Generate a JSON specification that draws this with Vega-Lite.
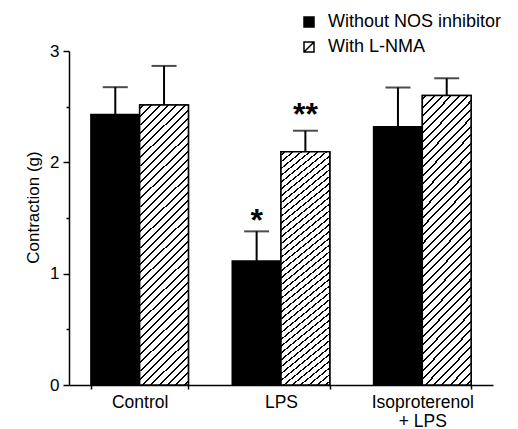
{
  "$schema": "https://vega.github.io/schema/vega-lite/v6.json",
  "autosize": {"type": "none"},
  "padding": {"left": 69, "top": 51, "right": 25, "bottom": 44},
  "width": 424,
  "height": 334,
  "background": "white",
  "config": {
    "view": {"stroke": null},
    "font": "Liberation Sans",
    "axis": {"labelFont": "Liberation Sans", "titleFont": "Liberation Sans", "labelColor": "black", "titleColor": "black", "domainColor": "black", "tickColor": "black", "domainWidth": 1.5, "tickWidth": 1.5, "grid": false},
    "legend": {"labelFont": "Liberation Sans", "labelColor": "black", "padding": 0}
  },
  "data": {
    "values": [
      {"condition": "Control", "group": "Without NOS inhibitor", "mean": 2.43, "upper": 2.675, "sig": ""},
      {"condition": "Control", "group": "With L-NMA", "mean": 2.515, "upper": 2.866, "sig": ""},
      {"condition": "LPS", "group": "Without NOS inhibitor", "mean": 1.114, "upper": 1.38, "sig": "*"},
      {"condition": "LPS", "group": "With L-NMA", "mean": 2.096, "upper": 2.284, "sig": "**"},
      {"condition": "Isoproterenol + LPS", "group": "Without NOS inhibitor", "mean": 2.32, "upper": 2.672, "sig": ""},
      {"condition": "Isoproterenol + LPS", "group": "With L-NMA", "mean": 2.6, "upper": 2.755, "sig": ""}
    ]
  },
  "encoding": {
    "x": {
      "field": "condition", "type": "nominal", "sort": ["Control", "LPS", "Isoproterenol + LPS"],
      "scale": {"paddingInner": 0.31, "paddingOuter": 0.155},
      "axis": {"title": null, "labelAngle": 0, "tickBand": "extent", "tickSize": 4, "labelFontSize": 17.5, "labelPadding": 4, "labelLineHeight": 19,
        "labelExpr": "datum.label == 'Isoproterenol + LPS' ? ['Isoproterenol', '+ LPS'] : datum.label"}
    },
    "xOffset": {"field": "group", "type": "nominal", "sort": ["Without NOS inhibitor", "With L-NMA"], "scale": {"domain": ["Without NOS inhibitor", "With L-NMA"], "paddingInner": 0, "paddingOuter": 0}}
  },
  "layer": [
    {
      "mark": {"type": "rule", "color": "black", "strokeWidth": 2},
      "encoding": {
        "y": {"field": "mean", "type": "quantitative"},
        "y2": {"field": "upper"}
      }
    },
    {
      "mark": {"type": "tick", "color": "black", "thickness": 2, "size": 25, "orient": "horizontal"},
      "encoding": {
        "y": {"field": "upper", "type": "quantitative"}
      }
    },
    {
      "mark": {"type": "bar", "stroke": "black", "strokeWidth": 1.5},
      "encoding": {
        "y": {"field": "mean", "type": "quantitative", "scale": {"domain": [0, 3], "nice": false},
          "axis": {"title": "Contraction (g)", "titleFontSize": 17, "titleFontWeight": "normal", "titlePadding": 7, "titleY": 156,
            "values": [0, 0.5, 1, 1.5, 2, 2.5, 3], "labelExpr": "datum.value % 1 == 0 ? format(datum.value, 'd') : ''",
            "tickSize": {"condition": {"test": "datum.value % 1 != 0", "value": 3}, "value": 6},
            "labelFontSize": 17, "labelPadding": 4}},
        "fill": {"field": "group", "type": "nominal", "sort": ["Without NOS inhibitor", "With L-NMA"],
          "scale": {"domain": ["Without NOS inhibitor", "With L-NMA"], "range": ["black", "white"]},
          "legend": {"title": null, "orient": "none", "legendX": 231, "legendY": -38, "symbolType": "M-1,-1H1V1H-1ZM-1,1L1,-1", "symbolSize": 100, "symbolStrokeColor": "black", "symbolStrokeWidth": 1.5, "labelFontSize": 18, "labelOffset": 10, "labelLimit": 400, "rowPadding": 7}}
      }
    },
    {
      "transform": [{"filter": "datum.group == 'With L-NMA'"}],
      "mark": {"type": "bar", "stroke": "black", "strokeWidth": 1.5,
        "fill": {"gradient": "linear", "x1": 0, "y1": 0, "x2": 0.195, "y2": 1.138, "stops": [
          {"offset": 0, "color": "white"},
          {"offset": 0.009, "color": "white"}, {"offset": 0.009, "color": "black"}, {"offset": 0.015, "color": "black"}, {"offset": 0.015, "color": "white"},
          {"offset": 0.034, "color": "white"}, {"offset": 0.034, "color": "black"}, {"offset": 0.040, "color": "black"}, {"offset": 0.040, "color": "white"},
          {"offset": 0.059, "color": "white"}, {"offset": 0.059, "color": "black"}, {"offset": 0.065, "color": "black"}, {"offset": 0.065, "color": "white"},
          {"offset": 0.084, "color": "white"}, {"offset": 0.084, "color": "black"}, {"offset": 0.090, "color": "black"}, {"offset": 0.090, "color": "white"},
          {"offset": 0.109, "color": "white"}, {"offset": 0.109, "color": "black"}, {"offset": 0.115, "color": "black"}, {"offset": 0.115, "color": "white"},
          {"offset": 0.134, "color": "white"}, {"offset": 0.134, "color": "black"}, {"offset": 0.140, "color": "black"}, {"offset": 0.140, "color": "white"},
          {"offset": 0.159, "color": "white"}, {"offset": 0.159, "color": "black"}, {"offset": 0.165, "color": "black"}, {"offset": 0.165, "color": "white"},
          {"offset": 0.184, "color": "white"}, {"offset": 0.184, "color": "black"}, {"offset": 0.190, "color": "black"}, {"offset": 0.190, "color": "white"},
          {"offset": 0.209, "color": "white"}, {"offset": 0.209, "color": "black"}, {"offset": 0.215, "color": "black"}, {"offset": 0.215, "color": "white"},
          {"offset": 0.234, "color": "white"}, {"offset": 0.234, "color": "black"}, {"offset": 0.240, "color": "black"}, {"offset": 0.240, "color": "white"},
          {"offset": 0.259, "color": "white"}, {"offset": 0.259, "color": "black"}, {"offset": 0.265, "color": "black"}, {"offset": 0.265, "color": "white"},
          {"offset": 0.284, "color": "white"}, {"offset": 0.284, "color": "black"}, {"offset": 0.290, "color": "black"}, {"offset": 0.290, "color": "white"},
          {"offset": 0.309, "color": "white"}, {"offset": 0.309, "color": "black"}, {"offset": 0.315, "color": "black"}, {"offset": 0.315, "color": "white"},
          {"offset": 0.334, "color": "white"}, {"offset": 0.334, "color": "black"}, {"offset": 0.340, "color": "black"}, {"offset": 0.340, "color": "white"},
          {"offset": 0.359, "color": "white"}, {"offset": 0.359, "color": "black"}, {"offset": 0.365, "color": "black"}, {"offset": 0.365, "color": "white"},
          {"offset": 0.384, "color": "white"}, {"offset": 0.384, "color": "black"}, {"offset": 0.390, "color": "black"}, {"offset": 0.390, "color": "white"},
          {"offset": 0.409, "color": "white"}, {"offset": 0.409, "color": "black"}, {"offset": 0.415, "color": "black"}, {"offset": 0.415, "color": "white"},
          {"offset": 0.434, "color": "white"}, {"offset": 0.434, "color": "black"}, {"offset": 0.440, "color": "black"}, {"offset": 0.440, "color": "white"},
          {"offset": 0.459, "color": "white"}, {"offset": 0.459, "color": "black"}, {"offset": 0.465, "color": "black"}, {"offset": 0.465, "color": "white"},
          {"offset": 0.484, "color": "white"}, {"offset": 0.484, "color": "black"}, {"offset": 0.490, "color": "black"}, {"offset": 0.490, "color": "white"},
          {"offset": 0.509, "color": "white"}, {"offset": 0.509, "color": "black"}, {"offset": 0.515, "color": "black"}, {"offset": 0.515, "color": "white"},
          {"offset": 0.534, "color": "white"}, {"offset": 0.534, "color": "black"}, {"offset": 0.540, "color": "black"}, {"offset": 0.540, "color": "white"},
          {"offset": 0.559, "color": "white"}, {"offset": 0.559, "color": "black"}, {"offset": 0.565, "color": "black"}, {"offset": 0.565, "color": "white"},
          {"offset": 0.584, "color": "white"}, {"offset": 0.584, "color": "black"}, {"offset": 0.590, "color": "black"}, {"offset": 0.590, "color": "white"},
          {"offset": 0.609, "color": "white"}, {"offset": 0.609, "color": "black"}, {"offset": 0.615, "color": "black"}, {"offset": 0.615, "color": "white"},
          {"offset": 0.634, "color": "white"}, {"offset": 0.634, "color": "black"}, {"offset": 0.640, "color": "black"}, {"offset": 0.640, "color": "white"},
          {"offset": 0.659, "color": "white"}, {"offset": 0.659, "color": "black"}, {"offset": 0.665, "color": "black"}, {"offset": 0.665, "color": "white"},
          {"offset": 0.684, "color": "white"}, {"offset": 0.684, "color": "black"}, {"offset": 0.690, "color": "black"}, {"offset": 0.690, "color": "white"},
          {"offset": 0.709, "color": "white"}, {"offset": 0.709, "color": "black"}, {"offset": 0.715, "color": "black"}, {"offset": 0.715, "color": "white"},
          {"offset": 0.734, "color": "white"}, {"offset": 0.734, "color": "black"}, {"offset": 0.740, "color": "black"}, {"offset": 0.740, "color": "white"},
          {"offset": 0.759, "color": "white"}, {"offset": 0.759, "color": "black"}, {"offset": 0.765, "color": "black"}, {"offset": 0.765, "color": "white"},
          {"offset": 0.784, "color": "white"}, {"offset": 0.784, "color": "black"}, {"offset": 0.790, "color": "black"}, {"offset": 0.790, "color": "white"},
          {"offset": 0.809, "color": "white"}, {"offset": 0.809, "color": "black"}, {"offset": 0.815, "color": "black"}, {"offset": 0.815, "color": "white"},
          {"offset": 0.834, "color": "white"}, {"offset": 0.834, "color": "black"}, {"offset": 0.840, "color": "black"}, {"offset": 0.840, "color": "white"},
          {"offset": 0.859, "color": "white"}, {"offset": 0.859, "color": "black"}, {"offset": 0.865, "color": "black"}, {"offset": 0.865, "color": "white"},
          {"offset": 0.884, "color": "white"}, {"offset": 0.884, "color": "black"}, {"offset": 0.890, "color": "black"}, {"offset": 0.890, "color": "white"},
          {"offset": 0.909, "color": "white"}, {"offset": 0.909, "color": "black"}, {"offset": 0.915, "color": "black"}, {"offset": 0.915, "color": "white"},
          {"offset": 0.934, "color": "white"}, {"offset": 0.934, "color": "black"}, {"offset": 0.940, "color": "black"}, {"offset": 0.940, "color": "white"},
          {"offset": 0.959, "color": "white"}, {"offset": 0.959, "color": "black"}, {"offset": 0.965, "color": "black"}, {"offset": 0.965, "color": "white"},
          {"offset": 0.984, "color": "white"}, {"offset": 0.984, "color": "black"}, {"offset": 0.990, "color": "black"}, {"offset": 0.990, "color": "white"},
          {"offset": 1, "color": "white"}
        ]}},
      "encoding": {
        "y": {"field": "mean", "type": "quantitative"}
      }
    },
    {
      "transform": [{"filter": "datum.sig == '*'"}],
      "mark": {"type": "text", "font": "Liberation Sans", "fontWeight": "bold", "fontSize": 32, "baseline": "alphabetic", "dy": 0, "color": "black"},
      "encoding": {
        "y": {"field": "upper", "type": "quantitative"},
        "text": {"field": "sig"}
      }
    },
    {
      "transform": [{"filter": "datum.sig == '**'"}],
      "mark": {"type": "text", "font": "Liberation Sans", "fontWeight": "bold", "fontSize": 32, "baseline": "alphabetic", "dy": -6, "color": "black"},
      "encoding": {
        "y": {"field": "upper", "type": "quantitative"},
        "text": {"field": "sig"}
      }
    }
  ]
}
